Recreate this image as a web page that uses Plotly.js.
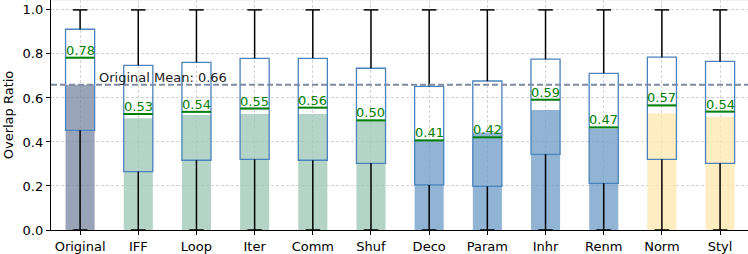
<!DOCTYPE html>
<html>
<head>
<meta charset="utf-8">
<script src="https://cdn.plot.ly/plotly-3.0.1.min.js"></script>
<style>html,body{margin:0;padding:0;background:#fff;}#chart{width:748px;height:254px;}</style>
</head>
<body>
<div id="chart"></div>
<script>
var categories = ["Original","IFF","Loop","Iter","Comm","Shuf","Deco","Param","Inhr","Renm","Norm","Styl"];
var barMeans   = [0.660, 0.508, 0.523, 0.527, 0.527, 0.497, 0.405, 0.443, 0.545, 0.460, 0.530, 0.515];
var q1Values   = [0.453, 0.265, 0.317, 0.321, 0.317, 0.303, 0.205, 0.198, 0.344, 0.212, 0.321, 0.303];
var medianValues = [0.783, 0.527, 0.537, 0.552, 0.556, 0.498, 0.407, 0.421, 0.592, 0.466, 0.566, 0.538];
var q3Values   = [0.912, 0.748, 0.762, 0.780, 0.780, 0.735, 0.653, 0.677, 0.776, 0.712, 0.785, 0.766];
var whiskerLow  = [0,0,0,0,0,0,0,0,0,0,0,0];
var whiskerHigh = [1,1,1,1,1,1,1,1,1,1,1,1];
var originalMean = 0.66;
var groupColors = ["rgba(120,134,160,0.75)",
  "rgba(160,201,185,0.8)","rgba(160,201,185,0.8)","rgba(160,201,185,0.8)","rgba(160,201,185,0.8)","rgba(160,201,185,0.8)",
  "rgba(118,161,201,0.8)","rgba(118,161,201,0.8)","rgba(118,161,201,0.8)","rgba(118,161,201,0.8)",
  "rgba(253,232,176,0.8)","rgba(253,232,176,0.8)"];

var xs = categories.map(function(c,i){return i;});
var boxW = 0.5, capW = 0.25;

var traces = [];
traces.push({type:"bar", x:xs, y:barMeans, width:0.5,
  marker:{color:groupColors, line:{width:0}}, hoverinfo:"skip", showlegend:false});

traces.push({type:"box", x:xs, q1:q1Values, median:medianValues, q3:q3Values,
  lowerfence:q1Values, upperfence:q3Values, width:boxW, whiskerwidth:0,
  fillcolor:"rgba(0,0,0,0)", line:{color:"#4a82bd", width:1.3},
  hoverinfo:"skip", showlegend:false, boxpoints:false});

var wx=[], wy=[], cx=[], cy=[], mx=[], my=[];
xs.forEach(function(i,k){
  wx.push(i,i,null,i,i,null); wy.push(whiskerLow[k],q1Values[k],null,q3Values[k],whiskerHigh[k],null);
  cx.push(i-capW/2,i+capW/2,null,i-capW/2,i+capW/2,null); cy.push(whiskerLow[k],whiskerLow[k],null,whiskerHigh[k],whiskerHigh[k],null);
  mx.push(i-boxW/2,i+boxW/2,null); my.push(medianValues[k],medianValues[k],null);
});
traces.push({type:"scatter", mode:"lines", x:wx, y:wy, line:{color:"#000", width:1.5}, hoverinfo:"skip", showlegend:false, cliponaxis:false});
traces.push({type:"scatter", mode:"lines", x:cx, y:cy, line:{color:"#000", width:1.5}, hoverinfo:"skip", showlegend:false, cliponaxis:false});
traces.push({type:"scatter", mode:"lines", x:mx, y:my, line:{color:"#008000", width:2}, hoverinfo:"skip", showlegend:false});

var annotations = xs.map(function(i,k){
  return {x:i, y:medianValues[k], xref:"x", yref:"y", text:medianValues[k].toFixed(2),
    showarrow:false, xanchor:"center", yanchor:"bottom", yshift:-1, borderpad:0,
    font:{family:"DejaVu Sans", size:13, color:"#008000"}};
});
annotations.push({x:0.3, y:originalMean, xref:"x", yref:"y", text:"Original Mean: " + originalMean.toFixed(2),
  showarrow:false, xanchor:"left", yanchor:"bottom", yshift:-1, borderpad:0,
  font:{family:"DejaVu Sans", size:13, color:"#222"}});

var layout = {
  width:748, height:254,
  margin:{l:51, r:0, t:0, b:24},
  paper_bgcolor:"#fff", plot_bgcolor:"#fff",
  font:{family:"DejaVu Sans", size:13, color:"#000"},
  showlegend:false,
  xaxis:{range:[-0.5, 11.48], tickvals:xs, ticktext:categories, showgrid:true,
    gridcolor:"#c8c8c8", gridwidth:0.8, griddash:"3px,2px", zeroline:false,
    showline:true, linecolor:"#000", linewidth:1.2, ticks:"outside", ticklen:4, tickcolor:"#000",
    tickfont:{family:"DejaVu Sans", size:13, color:"#000"}},
  yaxis:{range:[0, 1.045], tickvals:[0,0.2,0.4,0.6,0.8,1.0], ticktext:["0.0","0.2","0.4","0.6","0.8","1.0"],
    showgrid:true, gridcolor:"#c8c8c8", gridwidth:0.8, griddash:"3px,2px", zeroline:false,
    showline:true, linecolor:"#000", linewidth:1.2, ticks:"outside", ticklen:4, tickcolor:"#000",
    tickfont:{family:"DejaVu Sans", size:13, color:"#000"},
    title:{text:"Overlap Ratio", font:{family:"DejaVu Sans", size:13, color:"#000"}, standoff:6}},
  shapes:[
    {type:"line", xref:"paper", yref:"y", x0:0, x1:1, y0:originalMean, y1:originalMean,
      line:{color:"#7f8ba5", width:1.8, dash:"6px,3px"}},
    {type:"line", xref:"paper", yref:"paper", x0:0, x1:1, y0:1, y1:1, line:{color:"#e6e6e6", width:1}}
  ],
  annotations:annotations
};
Plotly.newPlot("chart", traces, layout, {staticPlot:true, displayModeBar:false});
</script>
</body>
</html>
